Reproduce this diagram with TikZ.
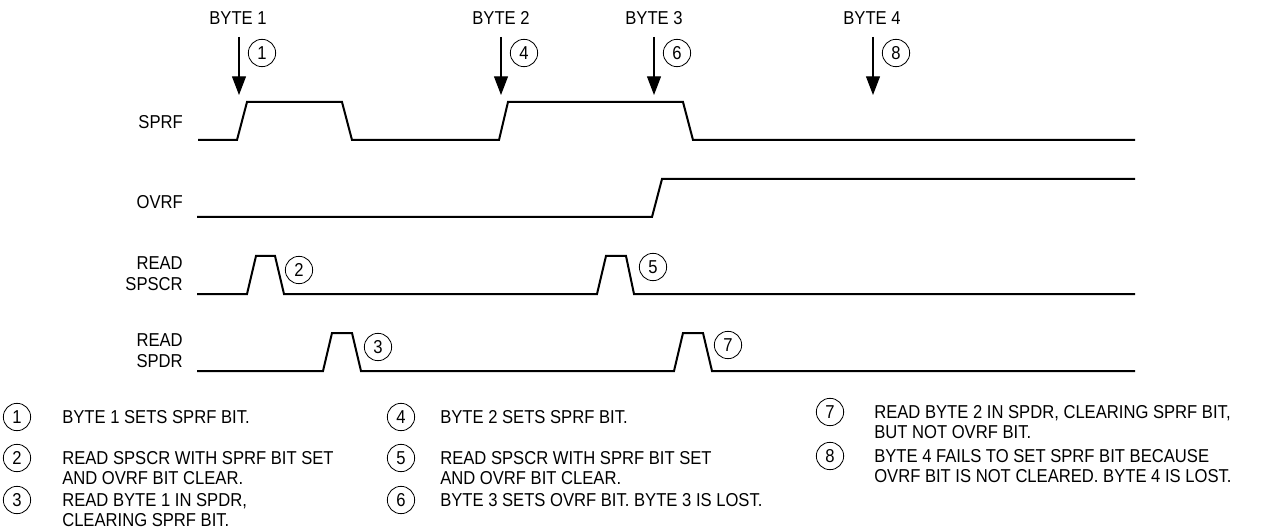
\documentclass[tikz,border=0pt]{standalone}
\usepackage{fontspec}
\setmainfont{Liberation Sans}[FakeStretch=0.89]
\usetikzlibrary{arrows.meta}
\begin{document}
\begin{tikzpicture}[x=0.75pt,y=-0.75pt,
  every node/.style={font=\fontsize{14}{15.5}\selectfont, inner sep=0pt},
  wave/.style={line width=1.5pt, line join=miter},
  numc/.style={circle, draw, line width=0.6pt, minimum size=20.5pt, inner sep=0pt},
  marker/.style={line width=0.8pt, -{Triangle[length=14pt,width=10.5pt]}},
  sig/.style={anchor=east, align=right},
  legtext/.style={anchor=north west, align=left}
]
\useasboundingbox (0,0) rectangle (1261,531);

% top byte labels
\node (b1) at (238,18) {BYTE 1};
\node (b2) at (501,18) {BYTE 2};
\node (b3) at (654,18) {BYTE 3};
\node (b4) at (872,18) {BYTE 4};

% arrow coordinates
\coordinate (a1s) at (239,37); \coordinate (a1e) at (239,95);
\coordinate (a2s) at (501,37); \coordinate (a2e) at (501,95);
\coordinate (a3s) at (654,37); \coordinate (a3e) at (654,95);
\coordinate (a4s) at (873,37); \coordinate (a4e) at (873,95);
\draw[marker] (a1s) -- (a1e);
\draw[marker] (a2s) -- (a2e);
\draw[marker] (a3s) -- (a3e);
\draw[marker] (a4s) -- (a4e);

\node[numc] (c1) at (262,53) {1};
\node[numc] (c4) at (524,53) {4};
\node[numc] (c6) at (677,53) {6};
\node[numc] (c8) at (896,53) {8};

% signal labels
\node[sig] (lsprf) at (183,122) {SPRF};
\node[sig] (lovrf) at (183,202) {OVRF};
\node[sig, anchor=north east] (lspscr) at (183,256.5) {READ\\SPSCR};
\node[sig, anchor=north east] (lspdr) at (183,333.5) {READ\\SPDR};

% waveforms
\draw[wave] (198,140) -- (237,140) -- (247,102) -- (342,102) -- (352,140)
  -- (499,140) -- (508,102) -- (683,102) -- (693,140) -- (1135,140);
\draw[wave] (197,217) -- (652,217) -- (662,179) -- (1135,179);
\draw[wave] (197,294) -- (247,294) -- (256,256) -- (275,256) -- (284,294)
  -- (597,294) -- (606,256) -- (626,256) -- (634,294) -- (1135,294);
\draw[wave] (197,371) -- (323,371) -- (332,333) -- (352,333) -- (361,371)
  -- (674,371) -- (683,333) -- (703,333) -- (712,371) -- (1135,371);

\node[numc] (c2) at (299,270) {2};
\node[numc] (c3) at (378,347) {3};
\node[numc] (c5) at (653,267) {5};
\node[numc] (c7) at (728,345) {7};

% legend
\node[numc] (l1) at (17,417) {1};
\node[legtext] (t1) at (62,410) {BYTE 1 SETS SPRF BIT.};
\node[numc] (l2) at (17,458) {2};
\node[legtext] (t2) at (62,451) {READ SPSCR WITH SPRF BIT SET\\AND OVRF BIT CLEAR.};
\node[numc] (l3) at (17,500) {3};
\node[legtext] (t3) at (62,493) {READ BYTE 1 IN SPDR,\\CLEARING SPRF BIT.};

\node[numc] (l4) at (401,417) {4};
\node[legtext] (t4) at (440,410) {BYTE 2 SETS SPRF BIT.};
\node[numc] (l5) at (401,458) {5};
\node[legtext] (t5) at (440,451) {READ SPSCR WITH SPRF BIT SET\\AND OVRF BIT CLEAR.};
\node[numc] (l6) at (401,500) {6};
\node[legtext] (t6) at (440,493) {BYTE 3 SETS OVRF BIT. BYTE 3 IS LOST.};

\node[numc] (l7) at (830,412) {7};
\node[legtext] (t7) at (874,405) {READ BYTE 2 IN SPDR, CLEARING SPRF BIT,\\BUT NOT OVRF BIT.};
\node[numc] (l8) at (830,456) {8};
\node[legtext] (t8) at (874,449) {BYTE 4 FAILS TO SET SPRF BIT BECAUSE\\OVRF BIT IS NOT CLEARED. BYTE 4 IS LOST.};
\end{tikzpicture}
\end{document}
